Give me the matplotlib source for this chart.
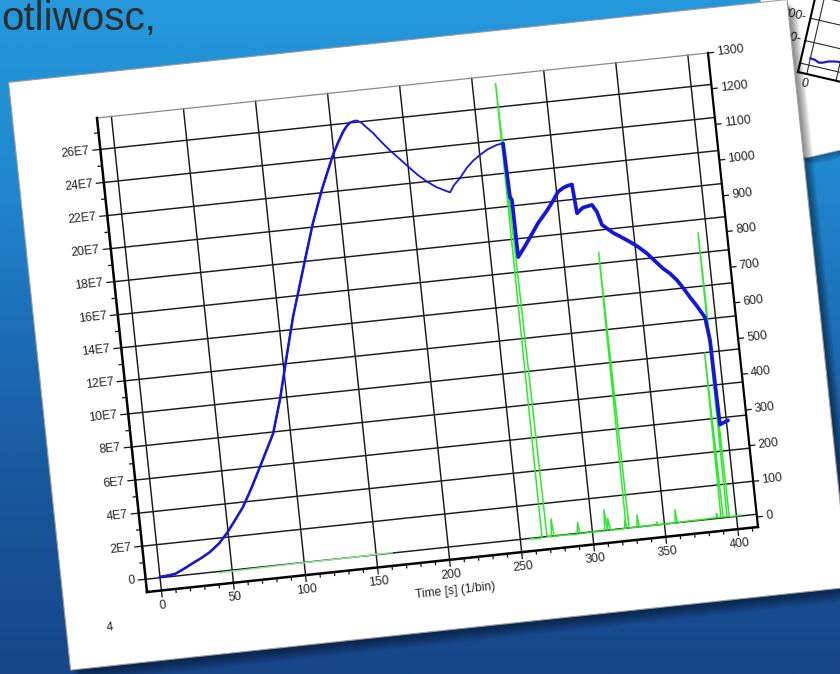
import numpy as np
import matplotlib
matplotlib.use("Agg")
import matplotlib.pyplot as plt
from matplotlib.transforms import Affine2D
from matplotlib.patches import Polygon
from matplotlib.collections import LineCollection
from matplotlib.colors import LinearSegmentedColormap
from matplotlib import font_manager

# ---------------- data ----------------
# blue trace, left axis (units of 1E7)
blue_time = [0, 5, 10.5, 17, 23.7, 30, 36.1, 43, 49.2, 55, 62.0, 69, 76.6, 82, 88.0,
             95.2, 103.4, 110.1, 115.3, 122.5, 130.6, 139.2, 149.3, 154, 157.8, 160.5,
             163.0, 165.5, 168.0, 171, 174, 178.3, 183, 188.7, 195, 201.2, 206,
             211.8, 218, 226.9, 230, 234.8, 240, 245, 250.1, 256, 262.5, 266.8,
             267.7, 268.8, 269.0, 273, 278.5, 285, 292.1, 297, 301.0, 304.7, 308,
             311.1, 312.5, 317.0, 323.4, 326.3, 328.8, 335.8, 341, 346.8, 352, 357.6,
             362, 367.5, 372, 376.3, 380, 384.0, 388, 392.8, 394.6, 394.9, 395.3, 401.1]
blue_signal = [0.05, 0.08, 0.13, 0.38, 0.67, 0.93, 1.22, 1.68, 2.25, 2.9, 3.7, 4.75, 6.0,
               6.9, 7.9, 9.9, 12.6, 14.75, 16.15, 18.1, 20.25, 22.2, 24.2, 24.95, 25.5,
               25.8, 26.0, 26.08, 26.1, 25.95, 25.65, 25.25, 24.7, 24.1, 23.5, 22.9,
               22.45, 22.0, 21.6, 21.2, 21.6, 22.0, 22.55, 22.95, 23.25, 23.55, 23.75,
               23.8, 20.55, 20.35, 16.9, 17.35, 18.0, 18.8, 19.5, 20.05, 20.55, 20.75,
               20.85, 20.9, 19.15, 19.45, 19.55, 19.1, 18.3, 17.75, 17.45, 17.1, 16.75,
               16.3, 15.85, 15.3, 14.95, 14.5, 14.0, 13.4, 12.85, 12.1, 10.7, 8.1,
               5.6, 5.8]

# green trace, right axis (counts per bin)
green_early_time = [41, 60, 80, 100, 120, 140, 161]
green_early_counts = [4, 5, 6, 7, 7, 8, 9]
green_late_time = [257, 262, 265, 266, 267.5, 268.5, 271.5, 272.5, 273.5, 280, 289.5,
                   290.5, 291.5, 300, 308.5, 309.5, 310.5, 311.5, 312.5, 318, 322.5,
                   323, 323.5, 324.5, 325.5, 331, 331.8, 332.6, 340, 344.5, 345, 345.5,
                   352, 357.5, 358.2, 359, 366, 375, 383, 386, 386.5, 387, 389.3, 390,
                   390.8, 393.5, 394.2, 395, 396, 403]
green_late_counts = [6, 5, 6, 1278, 700, 8, 6, 55, 6, 7, 5,
                     38, 6, 7, 6, 65, 8, 40, 7, 6, 7,
                     30, 7, 780, 8, 7, 41, 7, 8, 7, 15, 7,
                     8, 7, 44, 8, 9, 9, 10, 10, 22, 10, 10, 470,
                     10, 10, 805, 10, 9, 10]

x_major = list(range(0, 401, 50))
x_minor = [v for v in range(0, 411, 10) if v % 50]
left_major = list(range(0, 27, 2))
left_minor = list(range(1, 28, 2))
left_labels = ["0"] + [f"{v}E7" for v in left_major[1:]]
right_major = list(range(0, 1301, 100))

# small chart on the card behind
mini_time = [0, 8, 15, 22, 30, 40, 55, 70]
mini_vals = [30, 28, 20, 24, 34, 40, 45, 48]

# axis ranges
X0, X1 = -10.0, 414.0
L0, L1 = -0.77, 27.9
R0, R1 = -28.0, 1300.0

# ---------------- fonts ----------------
avail = {f.name for f in font_manager.fontManager.ttflist}
if "Liberation Sans Narrow" in avail:
    TFONT, TSIZE = ["Liberation Sans Narrow", "DejaVu Sans"], 10.3
else:
    TFONT, TSIZE = ["Liberation Sans", "DejaVu Sans"], 8.7
INK = "#242424"

# ---------------- canvas ----------------
W, H = 840, 674
fig = plt.figure(figsize=(W / 100, H / 100), dpi=100)
ax = fig.add_axes([0, 0, 1, 1])
ax.set_axis_off()
ax.autoscale(False)
ax.set_xlim(0, W)
ax.set_ylim(H, 0)

grad = np.linspace(0, 1, 400).reshape(-1, 1)
bg = LinearSegmentedColormap.from_list(
    "bg", ["#2598dc", "#2189d0", "#1c6db5", "#19559a", "#17468a"])
ax.imshow(grad, cmap=bg, extent=(0, W, H, 0), aspect="auto", zorder=0,
          interpolation="bilinear")

ax.text(1, 30, "otliwosc,", fontsize=29, family=["Liberation Sans", "DejaVu Sans"],
        color="#2e2e2e", ha="left", va="baseline", zorder=1)

# ---------------- card behind (top right) ----------------
card2 = [(760, -5), (845, -5), (845, 149), (806, 158), (775, 140)]
for k in range(1, 9):
    ax.add_patch(Polygon(card2, closed=True, facecolor="black", alpha=0.045, lw=0,
                         transform=Affine2D().translate(k * 0.6, k * 0.9) + ax.transData,
                         zorder=1.0))
ax.add_patch(Polygon(card2, closed=True, facecolor="white", edgecolor="#b0b0b0",
                     lw=0.6, zorder=1.1))

M2 = Affine2D().translate(15, 40).scale(0.6, -0.23).rotate_deg(13).translate(798, 72)
T2 = M2 + ax.transData
for gy in [0, 100, 200, 300]:
    ax.plot([-15, 420], [gy, gy], transform=T2, color="#2a2a2a", lw=0.8, zorder=1.3)
for gx in [0, 50]:
    ax.plot([gx, gx], [-40, 400], transform=T2, color="#2a2a2a", lw=0.8, zorder=1.3)
ax.plot([-15, -15], [-40, 400], transform=T2, color="black", lw=1.5, zorder=1.35)
ax.plot([-15, 420], [-40, -40], transform=T2, color="black", lw=1.5, zorder=1.35)
ax.plot(mini_time, mini_vals, transform=T2, color="#1a1ad6", lw=1.6, zorder=1.4)
for gy in [100, 200]:
    ax.text(-22, gy, f"{gy}-", transform=T2, rotation=-13, rotation_mode="anchor",
            ha="right", va="center", fontsize=TSIZE, family=TFONT, color=INK, zorder=1.4)
ax.text(0, -85, "0", transform=T2, rotation=-13, rotation_mode="anchor",
        ha="center", va="center", fontsize=TSIZE, family=TFONT, color=INK, zorder=1.4)

# ---------------- main card ----------------
panel = Affine2D(np.array([[611.0, -50.0, 147.0], [-65.0, -474.0, 592.0], [0, 0, 1]]))
P = panel + ax.transData
TL = Affine2D().translate(-X0, -L0).scale(1 / (X1 - X0), 1 / (L1 - L0)) + P
TR = Affine2D().translate(-X0, -R0).scale(1 / (X1 - X0), 1 / (R1 - R0)) + P
ANG = np.degrees(np.arctan2(65, 611))
SX, SY = 1 / 614.4, 1 / 476.6  # panel units per pixel


def uX(v):
    return (v - X0) / (X1 - X0)


def uL(v):
    return (v - L0) / (L1 - L0)


def uR(v):
    return (v - R0) / (R1 - R0)


card = [(-0.137, -0.146), (1.137, -0.146), (1.137, 1.094), (-0.137, 1.094)]
for k in range(1, 14):
    ax.add_patch(Polygon(card, closed=True, facecolor="black", alpha=0.042, lw=0,
                         transform=panel + Affine2D().translate(k * 0.85, k * 0.95) + ax.transData,
                         zorder=2))
ax.add_patch(Polygon(card, closed=True, facecolor="white", edgecolor="#9c9c9c",
                     lw=0.8, transform=P, zorder=3))

# grid
for xv in x_major:
    ax.plot([xv, xv], [L0, L1], transform=TL, color="#1a1a1a", lw=1.05, zorder=4)
for yv in left_major:
    ax.plot([X0, X1], [yv, yv], transform=TL, color="#1a1a1a", lw=1.05, zorder=4)

# frame
ax.plot([X0, X1], [L1, L1], transform=TL, color="#8a8a8a", lw=0.9, zorder=5)
ax.plot([X0, X0], [L0, L1], transform=TL, color="black", lw=1.8, zorder=5)
ax.plot([X0, X1], [L0, L0], transform=TL, color="black", lw=1.8, zorder=5)
ax.plot([X1, X1], [L0, L1], transform=TL, color="black", lw=1.6, zorder=5)

# ticks
segs = []
segs += [[(0, uL(v)), (-8 * SX, uL(v))] for v in left_major]
segs += [[(0, uL(v)), (-4.5 * SX, uL(v))] for v in left_minor]
segs += [[(1, uR(v)), (1 + 6 * SX, uR(v))] for v in right_major]
segs += [[(uX(v), 0), (uX(v), -7 * SY)] for v in x_major]
segs += [[(uX(v), 0), (uX(v), -4 * SY)] for v in x_minor]
ax.add_collection(LineCollection(segs, colors="#111111", linewidths=0.9, transform=P,
                                 zorder=5), autolim=False)

tkw = dict(transform=P, rotation=ANG, rotation_mode="anchor", fontsize=TSIZE,
           family=TFONT, color=INK, zorder=8)
for v, lab in zip(left_major, left_labels):
    ax.text(-11 * SX, uL(v), lab, ha="right", va="center", **tkw)
for v in right_major:
    ax.text(1 + 9 * SX, uR(v), str(v), ha="left", va="center", **tkw)
for v in x_major:
    ax.text(uX(v), -15 * SY, str(v), ha="center", va="center", **tkw)
ax.text(0.5, -31 * SY, "Time [s] (1/bin)", ha="center", va="center", **tkw)
ax.text(-0.066, -32 * SY, "4", ha="center", va="center", **tkw)

# series
ax.plot(green_early_time, green_early_counts, transform=TR, color="#8fe88f",
        lw=1.1, zorder=6)
ax.plot(green_late_time, green_late_counts, transform=TR, color="#2ee82e",
        lw=1.1, zorder=6)

bt = np.asarray(blue_time)
bs = np.asarray(blue_signal)
BLUE = "#1616d8"
ax.plot(bt, bs, transform=TL, color=BLUE, lw=1.3, zorder=7, solid_joinstyle="round")
rise = bt <= 165
ax.plot(bt[rise], bs[rise], transform=TL, color=BLUE, lw=1.8, zorder=7,
        solid_joinstyle="round")
late = bt >= 266.8
ax.plot(bt[late], bs[late], transform=TL, color=BLUE, lw=2.7, zorder=7,
        solid_joinstyle="round", solid_capstyle="round")

ax.set_xlim(0, W)
ax.set_ylim(H, 0)
fig.savefig("out.png", dpi=100)
